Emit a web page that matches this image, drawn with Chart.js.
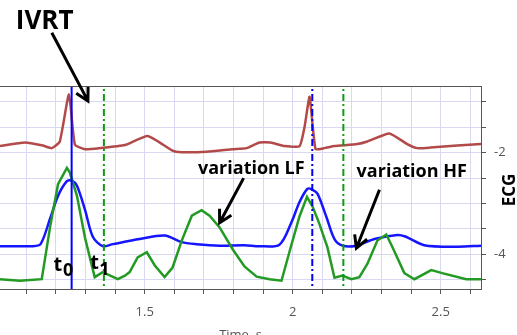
<!DOCTYPE html>
<html>
<head>
<meta charset="utf-8">
<script src="https://cdn.jsdelivr.net/npm/chart.js@4.4.1/dist/chart.umd.min.js"></script>
<style>
  html, body { margin: 0; padding: 0; background: #fff; overflow: hidden; }
</style>
</head>
<body>
<canvas id="ecgChart" width="517" height="348"></canvas>
<script>
// ECG trace (red)
var ecgTime  = [1.011, 1.095, 1.156, 1.186, 1.213, 1.244, 1.264, 1.298, 1.348, 1.433, 1.510, 1.594, 1.625, 1.709, 1.797, 1.844, 1.888, 1.925, 1.972, 2.023, 2.040, 2.057, 2.077, 2.107, 2.141, 2.218, 2.252, 2.326, 2.387, 2.421, 2.465, 2.556, 2.636];
var ecgValue = [-1.87, -1.80, -1.86, -1.91, -1.78, -0.85, -1.84, -1.93, -1.91, -1.85, -1.67, -1.96, -1.99, -1.98, -1.93, -1.91, -1.80, -1.80, -1.87, -1.87, -1.49, -0.90, -1.93, -1.91, -1.87, -1.83, -1.78, -1.62, -1.83, -1.91, -1.90, -1.86, -1.83];

// blue trace
var blueTime  = [1.011, 1.119, 1.148, 1.180, 1.207, 1.237, 1.254, 1.271, 1.298, 1.325, 1.358, 1.392, 1.483, 1.567, 1.625, 1.675, 1.753, 1.837, 1.888, 1.955, 1.995, 2.023, 2.050, 2.067, 2.084, 2.114, 2.141, 2.168, 2.215, 2.276, 2.353, 2.380, 2.444, 2.556, 2.636];
var blueValue = [-3.84, -3.84, -3.80, -3.30, -2.85, -2.56, -2.55, -2.65, -3.12, -3.66, -3.84, -3.80, -3.70, -3.63, -3.76, -3.80, -3.83, -3.82, -3.84, -3.81, -3.38, -2.97, -2.71, -2.73, -2.81, -3.27, -3.70, -3.83, -3.83, -3.70, -3.62, -3.65, -3.82, -3.85, -3.83];

// green trace
var greenTime  = [1.011, 1.078, 1.152, 1.180, 1.207, 1.237, 1.247, 1.271, 1.298, 1.331, 1.358, 1.409, 1.433, 1.449, 1.476, 1.507, 1.534, 1.567, 1.594, 1.625, 1.659, 1.692, 1.719, 1.753, 1.797, 1.837, 1.878, 1.922, 1.962, 1.989, 2.023, 2.048, 2.067, 2.090, 2.117, 2.141, 2.168, 2.198, 2.225, 2.252, 2.286, 2.316, 2.337, 2.377, 2.411, 2.468, 2.505, 2.586, 2.636];
var greenValue = [-4.49, -4.52, -4.49, -3.47, -2.62, -2.30, -2.39, -2.85, -3.67, -4.45, -4.35, -4.49, -4.42, -4.35, -4.06, -3.96, -4.22, -4.45, -4.26, -3.73, -3.24, -3.13, -3.24, -3.47, -3.90, -4.24, -4.44, -4.49, -4.52, -3.95, -3.25, -2.87, -3.06, -3.40, -3.86, -4.46, -4.42, -4.49, -4.45, -4.19, -3.73, -3.61, -3.86, -4.37, -4.49, -4.31, -4.37, -4.49, -4.49];

// marker times: t0, t1 (first beat), then second beat
var markerTime = [1.253, 1.362, 2.066, 2.171];

// axis tick labels
var xTickValues = [1.5, 2, 2.5];
var xTickLabels = ["1.5", "2", "2.5"];
var yTickValues = [-2, -4];
var yTickLabels = ["-2", "-4"];

function toPoints(xs, ys) {
   var pts = [];
   for (let i = 0; i < xs.length; i++) {
      pts.push({ x: xs[i], y: ys[i] });
   }
   return pts;
}

function marker(t, color, dash) {
   return {
      data: [{ x: t, y: -6 }, { x: t, y: 1 }],
      borderColor: color,
      borderWidth: 2,
      borderDash: dash,
      pointRadius: 0,
      order: 0,
   };
}

function arrow(ctx, x1, y1, x2, y2) {
   var a = Math.atan2(y2 - y1, x2 - x1);
   var h = 14;
   ctx.beginPath();
   ctx.moveTo(x1, y1);
   ctx.lineTo(x2, y2);
   ctx.moveTo(x2 - h * Math.cos(a - 0.5), y2 - h * Math.sin(a - 0.5));
   ctx.lineTo(x2, y2);
   ctx.lineTo(x2 - h * Math.cos(a + 0.5), y2 - h * Math.sin(a + 0.5));
   ctx.stroke();
}

// frame, ECG title and the hand-drawn style notes
var overlay = {
   id: "overlay",
   afterDraw: function (chart) {
      var ctx = chart.ctx;
      var area = chart.chartArea;
      var xs = chart.scales.x;
      var ys = chart.scales.y;
      var px = function (t) { return xs.getPixelForValue(t); };
      var py = function (v) { return ys.getPixelForValue(v); };

      ctx.save();
      ctx.strokeStyle = "#555";
      ctx.lineWidth = 1;
      ctx.beginPath();
      ctx.moveTo(area.left, area.top + 0.5);
      ctx.lineTo(area.right, area.top + 0.5);
      ctx.stroke();

      // y axis title
      ctx.fillStyle = "#000";
      ctx.font = "bold 17px 'Open Sans'";
      ctx.textAlign = "center";
      ctx.textBaseline = "middle";
      ctx.translate(510, 190);
      ctx.rotate(-Math.PI / 2);
      ctx.fillText("ECG", 0, 0);
      ctx.restore();

      ctx.save();
      ctx.fillStyle = "#000";
      ctx.strokeStyle = "#000";
      ctx.lineWidth = 3;
      ctx.textAlign = "center";
      ctx.textBaseline = "middle";

      ctx.font = "bold 26px 'Open Sans'";
      ctx.fillText("IVRT", px(1.162), py(0.59));
      arrow(ctx, px(1.186), py(0.36), px(1.308), py(-0.98));

      ctx.font = "bold 18px 'Open Sans'";
      ctx.fillText("variation LF", px(1.860), py(-2.32));
      arrow(ctx, px(1.834), py(-2.50), px(1.753), py(-3.38));
      ctx.fillText("variation HF", px(2.402), py(-2.38));
      arrow(ctx, px(2.293), py(-2.73), px(2.215), py(-3.88));

      ctx.textAlign = "left";
      ctx.textBaseline = "alphabetic";
      ctx.font = "bold 20px 'Open Sans'";
      ctx.fillText("t", px(1.192), py(-4.33));
      ctx.fillText("t", px(1.316), py(-4.29));
      ctx.font = "bold 18px 'Open Sans'";
      ctx.fillText("0", px(1.224), py(-4.43));
      ctx.fillText("1", px(1.346), py(-4.40));
      ctx.restore();
   },
};

var ctx = document.getElementById("ecgChart").getContext("2d");
Chart.defaults.font.family = "'Open Sans'";

var chart = new Chart(ctx, {
   type: "line",
   data: {
      datasets: [
         marker(markerTime[0], "#0000ff", []),
         marker(markerTime[1], "#119a11", [7, 3, 2, 3]),
         marker(markerTime[2], "#0000ff", [7, 3, 2, 3]),
         marker(markerTime[3], "#119a11", [7, 3, 2, 3]),
         {
            label: "ECG",
            data: toPoints(ecgTime, ecgValue),
            borderColor: "#b34a4a",
            borderWidth: 2.5,
            pointRadius: 0,
            tension: 0.15,
            order: 3,
         },
         {
            label: "blue",
            data: toPoints(blueTime, blueValue),
            borderColor: "#1515ff",
            borderWidth: 2.5,
            pointRadius: 0,
            tension: 0.3,
            order: 2,
         },
         {
            label: "green",
            data: toPoints(greenTime, greenValue),
            borderColor: "#239a23",
            borderWidth: 2.5,
            pointRadius: 0,
            tension: 0,
            order: 1,
         },
      ],
   },
   options: {
      responsive: false,
      animation: false,
      layout: { padding: { top: 86, left: 0, right: 0, bottom: 0 } },
      plugins: { legend: { display: false }, tooltip: { enabled: false } },
      scales: {
         x: {
            type: "linear",
            min: 1.011,
            max: 2.636,
            afterFit: function (s) { s.height = 59; },
            grid: { color: "#d8d8f2", tickColor: "#555", tickLength: 5 },
            border: { color: "#555" },
            ticks: {
               stepSize: 0.1,
               includeBounds: false,
               padding: 10,
               color: "#555",
               font: { size: 13 },
               maxRotation: 0,
               autoSkip: false,
               callback: function (v) {
                  var i = xTickValues.indexOf(Math.round(v * 10) / 10);
                  return i >= 0 ? xTickLabels[i] : "";
               },
            },
            title: { display: true, text: "Time, s", color: "#555", font: { size: 13 }, padding: { top: 2, bottom: 5 } },
         },
         y: {
            position: "right",
            min: -4.683,
            max: -0.687,
            afterFit: function (s) { s.width = 36; },
            grid: { color: "#d8d8f2", tickColor: "#555", tickLength: 5 },
            border: { color: "#555" },
            ticks: {
               stepSize: 0.5,
               includeBounds: false,
               padding: 8,
               color: "#555",
               font: { size: 13 },
               autoSkip: false,
               callback: function (v) {
                  var i = yTickValues.indexOf(Math.round(v * 10) / 10);
                  return i >= 0 ? yTickLabels[i] : "";
               },
            },
         },
      },
   },
   plugins: [overlay],
});
</script>
</body>
</html>
